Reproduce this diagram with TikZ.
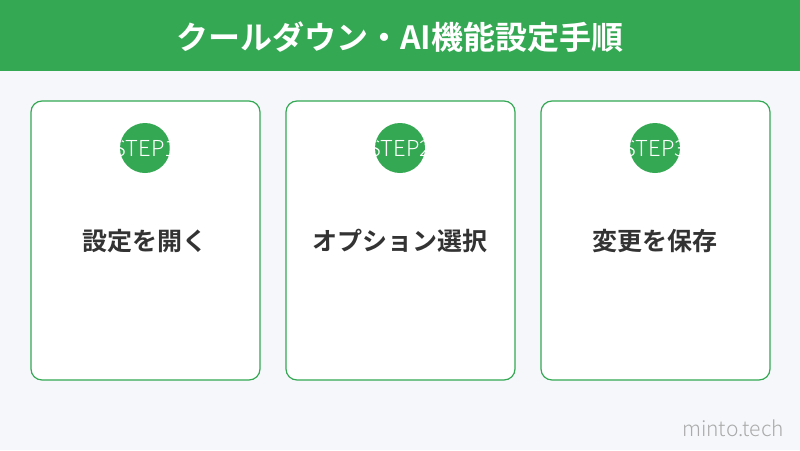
\documentclass[tikz,border=0pt]{standalone}
\usepackage{fontspec}
\setmainfont{Noto Sans CJK JP}
\newfontfamily\jpbold{Noto Sans CJK JP Bold}
\newfontfamily\jplight{Noto Sans CJK JP Light}
\definecolor{gbar}{HTML}{34A853}
\definecolor{bgc}{HTML}{F5F7FA}
\definecolor{txtc}{HTML}{333333}
\definecolor{markc}{HTML}{AAAAAA}
\tikzset{
  card/.style={draw=gbar, line width=1.2pt, fill=white, rounded corners=11pt},
  stepdot/.style={circle, fill=gbar, minimum size=50pt, inner sep=0pt},
  steplabel/.style={text=white, font=\jplight\fontsize{22}{22}\selectfont, inner sep=0pt},
  cardtext/.style={text=txtc, font=\jpbold\fontsize{25}{25}\selectfont},
}
\begin{document}
\begin{tikzpicture}[x=1pt,y=-1pt]
\useasboundingbox (0,0) rectangle (800,450);
\fill[bgc] (0,0) rectangle (800,450);
\fill[gbar] (0,0) rectangle (800,71);
\node[text=white, font=\jpbold\fontsize{32}{32}\selectfont] (title) at (400,37) {クールダウン・AI機能設定手順};
\foreach \i/\x/\t in {1/145/設定を開く, 2/400/オプション選択, 3/655/変更を保存}{
  \draw[card] (\x-114,101) rectangle (\x+115,380);
  \node[stepdot] (dot\i) at (\x,148) {};
  \begin{scope}
    \clip (\x,148) circle (25pt);
    \node[steplabel] (step\i) at (\x,148) {STEP\i};
  \end{scope}
  \node[cardtext] (text\i) at (\x,241) {\t};
}
\node[text=markc, font=\jplight\fontsize{21}{21}\selectfont] (mark) at (733,428) {minto.tech};
\end{tikzpicture}
\end{document}
